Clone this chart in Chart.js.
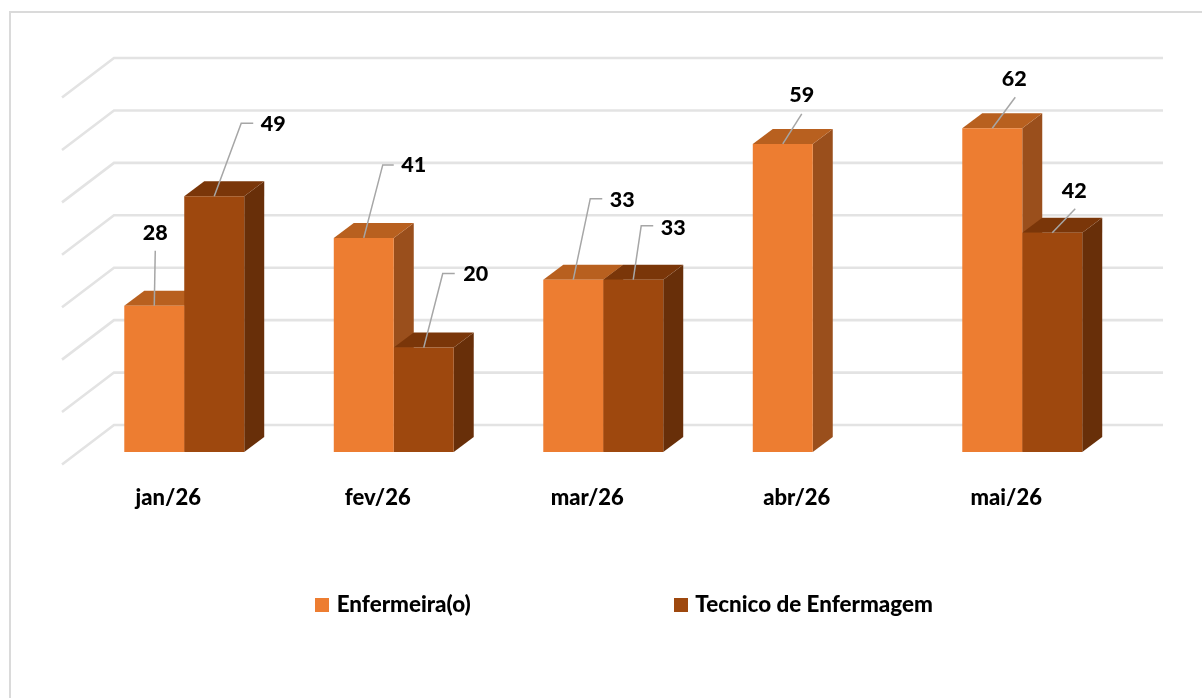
<!DOCTYPE html>
<html><head><meta charset="utf-8">
<style>html,body{margin:0;padding:0;background:#fff;overflow:hidden}canvas{display:block;filter:blur(.35px)}</style>
<script src="https://cdn.jsdelivr.net/npm/chart.js@4"></script>
</head><body><canvas id="c" width="1202" height="698"></canvas>
<script>
const categories = ['jan/26','fev/26','mar/26','abr/26','mai/26'];
const enfermeira = [28,41,33,59,62];
const tecnico = [49,20,33,null,42];
const seriesNames = ['Enfermeira(o)','Tecnico de Enfermagem'];
const yTickStep = 10;
const yMax = 70;

// callout layout, relative to the top centre of each bar: [elbow dx, elbow dy, tail length, label dx, label dy]
const calloutsEnf = [[1,-55,0,1,-73],[19,-73,11,50,-73],[17,-81,12,49,-80],[19,-30,0,19,-49],[23,-31,0,22,-49]];
const calloutsTec = [[27,-73,12,59,-72],[19,-74,12,52,-74],[8,-54,12,40,-52],null,[23,-24,0,22,-42]];

const FAMILY = 'Lato, sans-serif';
const WEIGHT = '900';
const faces = [
  {front:'#ED7D31', top:'#B8601F', side:'#9A4F1C'},
  {front:'#9E480E', top:'#7A3609', side:'#682F09'}
];
const DEPTH = {x:20, y:-15};

function swatch(color){
  const s = document.createElement('canvas');
  s.width = 14; s.height = 14;
  const g = s.getContext('2d');
  g.fillStyle = color; g.fillRect(0,0,14,14);
  return s;
}

const scene = {
  id:'scene',
  beforeLayout(chart){
    const lg = chart.legend;
    if (lg && !lg._wrapped){
      const f = lg.fit.bind(lg);
      lg.fit = function(){ this.maxWidth = 5000; f(); this.height = 20; };
      lg._wrapped = true;
    }
  },
  afterLayout(chart){
    const lg = chart.legend, p = lg.options.labels.padding;
    lg.left = 318.5 - p; lg.right = 5000; lg.top = 594 - p;
  },
  beforeDraw(chart){
    const c = chart.ctx;
    c.save();
    c.strokeStyle = '#DADADA'; c.lineWidth = 2;
    c.beginPath(); c.moveTo(10,710); c.lineTo(10,12); c.lineTo(1212,12); c.stroke();
    c.restore();
  },
  beforeDatasetsDraw(chart){
    const c = chart.ctx, y = chart.scales.y, base = y.getPixelForValue(0);
    c.save();
    c.strokeStyle = '#E3E3E3'; c.lineWidth = 2.6; c.lineJoin = 'miter';
    y.ticks.forEach(t=>{
      const p = base + (y.getPixelForValue(t.value)-base)*1.004;
      c.beginPath();
      c.moveTo(62, p+12.5); c.lineTo(114, p-27); c.lineTo(1163, p-27);
      c.stroke();
    });
    chart.data.datasets.forEach((ds,i)=>{
      chart.getDatasetMeta(i).data.forEach((bar,j)=>{
        if (ds.data[j]==null) return;
        const L = bar.x-bar.width/2, R = bar.x+bar.width/2, T = bar.y, B = bar.base;
        c.fillStyle = faces[i].side;
        c.beginPath(); c.moveTo(R,T); c.lineTo(R+DEPTH.x,T+DEPTH.y); c.lineTo(R+DEPTH.x,B+DEPTH.y); c.lineTo(R,B); c.closePath(); c.fill();
        c.fillStyle = faces[i].top;
        c.beginPath(); c.moveTo(L,T); c.lineTo(L+DEPTH.x,T+DEPTH.y); c.lineTo(R+DEPTH.x,T+DEPTH.y); c.lineTo(R,T); c.closePath(); c.fill();
      });
    });
    c.restore();
  },
  afterDatasetsDraw(chart){
    const c = chart.ctx;
    [calloutsEnf,calloutsTec].forEach((set,i)=>{
      const ds = chart.data.datasets[i];
      chart.getDatasetMeta(i).data.forEach((bar,j)=>{
        const v = ds.data[j];
        if (v==null || !set[j]) return;
        const [ex,ey,tail,lx,ly] = set[j];
        c.save();
        c.strokeStyle = '#A6A6A6'; c.lineWidth = 1.5;
        c.beginPath(); c.moveTo(bar.x,bar.y); c.lineTo(bar.x+ex,bar.y+ey);
        if (tail) c.lineTo(bar.x+ex+tail,bar.y+ey);
        c.stroke();
        c.fillStyle = '#000'; c.font = WEIGHT+' 21.5px '+FAMILY; c.textAlign = 'center'; c.textBaseline = 'middle';
        c.fillText(String(v), bar.x+lx, bar.y+ly);
        c.restore();
      });
    });
  }
};

new Chart(document.getElementById('c'),{
  type:'bar',
  data:{labels:categories,datasets:[
    {label:seriesNames[0],data:enfermeira,backgroundColor:faces[0].front,barPercentage:1,categoryPercentage:0.5725},
    {label:seriesNames[1],data:tecnico,backgroundColor:faces[1].front,barPercentage:1,categoryPercentage:0.5725}
  ]},
  plugins:[scene],
  options:{
    responsive:false,animation:false,devicePixelRatio:1,
    layout:{padding:{left:79.5,right:75,top:86.5,bottom:0}},
    plugins:{
      tooltip:{enabled:false},
      legend:{display:true,position:'bottom',align:'start',
        labels:{usePointStyle:true,pointStyleWidth:7,boxWidth:14,boxHeight:14,padding:206.5,color:'#000',font:{family:FAMILY,size:22.4,weight:WEIGHT},
          generateLabels(chart){
            const items = Chart.defaults.plugins.legend.labels.generateLabels(chart);
            items.forEach((it,i)=>{it.pointStyle = swatch(faces[i].front);});
            return items;
          }}}
    },
    scales:{
      x:{grid:{display:false},border:{display:false},
        afterFit(s){s.height=226;},
        ticks:{color:'#000',padding:25,labelOffset:-16,maxRotation:0,autoSkip:false,font:{family:FAMILY,size:22,weight:WEIGHT}}},
      y:{display:false,min:0,max:yMax,ticks:{stepSize:yTickStep}}
    }
  }
});
</script></body></html>
